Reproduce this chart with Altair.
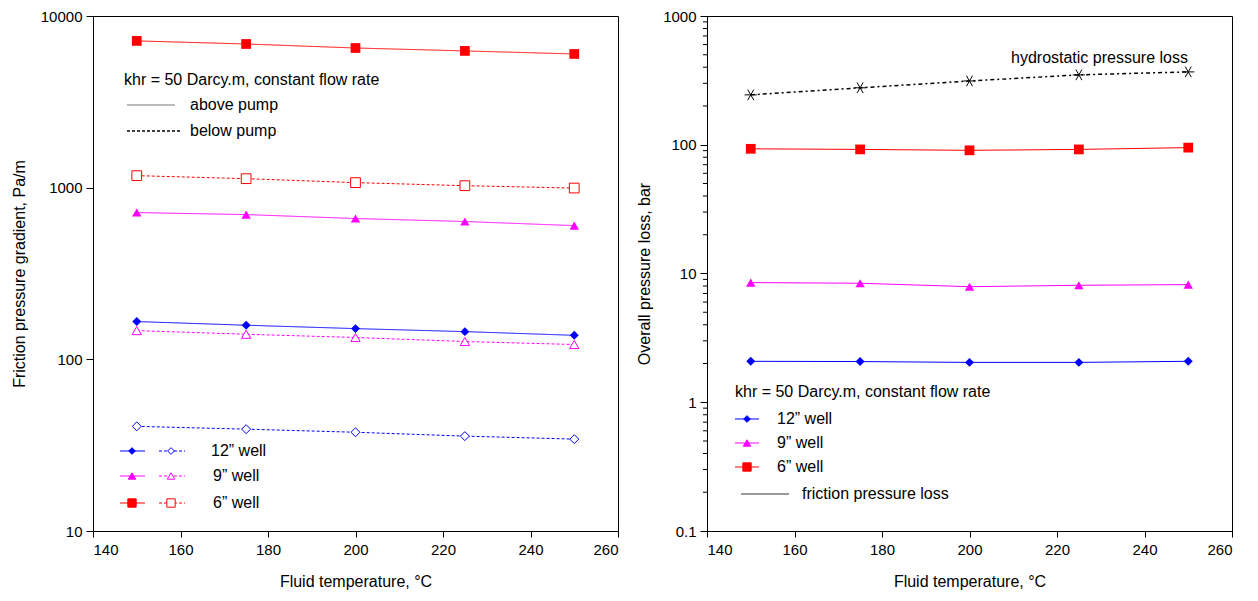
import altair as alt
import pandas as pd

FONT = "Liberation Sans"

# ---------------- data ----------------
temps = [150, 175, 200, 225, 250]
wells = ["12", "9", "6"]

# left: friction pressure gradient, Pa/m
grad_above_12 = [166, 158, 151, 145, 138]
grad_above_9 = [716, 697, 661, 635, 601]
grad_above_6 = [7160, 6870, 6510, 6260, 6010]
grad_below_12 = [40.7, 39.2, 37.6, 35.7, 34.3]
grad_below_9 = [147, 140, 134, 127, 122]
grad_below_6 = [1175, 1128, 1070, 1027, 995]

# right: overall pressure loss, bar
loss_12 = [2.08, 2.07, 2.04, 2.04, 2.08]
loss_9 = [8.5, 8.4, 7.9, 8.1, 8.2]
loss_6 = [93, 92, 90.5, 92, 95]
hydro_loss = [244, 277, 313, 349, 368]

x_ticks = [140, 160, 180, 200, 220, 240, 260]
left_y_ticks = [10, 100, 1000, 10000]
right_y_ticks = [0.1, 1, 10, 100, 1000]
right_minor_ticks = [m * d for d in [0.1, 1, 10, 100] for m in range(2, 10)]

colors = ["#0000FF", "#FF00FF", "#FF0000"]
shapes = ["diamond", "triangle-up", "square"]
sizes = [80, 95, 130]

# ---------------- frames ----------------
rows = []
for w, a, b in zip(wells, [grad_above_12, grad_above_9, grad_above_6],
                   [grad_below_12, grad_below_9, grad_below_6]):
    for t, v in zip(temps, a):
        rows.append({"T": t, "v": v, "well": w, "pos": "above", "key": w + "a"})
    for t, v in zip(temps, b):
        rows.append({"T": t, "v": v, "well": w, "pos": "below", "key": w + "b"})
df_left = pd.DataFrame(rows)

rows = []
for w, a in zip(wells, [loss_12, loss_9, loss_6]):
    for t, v in zip(temps, a):
        rows.append({"T": t, "v": v, "well": w})
df_right = pd.DataFrame(rows)
df_hydro = pd.DataFrame({"T": temps, "v": hydro_loss})
df_minor = pd.DataFrame({"v": right_minor_ticks})

color_scale = alt.Scale(domain=wells, range=colors)
shape_scale = alt.Scale(domain=wells, range=shapes)
size_scale = alt.Scale(domain=wells, range=sizes)

W, H = 525, 515


def xenc():
    return alt.X("T:Q", scale=alt.Scale(domain=[140, 260], nice=False, zero=False),
                 axis=alt.Axis(values=x_ticks, format="d", title="Fluid temperature, °C",
                               tickSize=6, labelPadding=5, titlePadding=16, grid=False))


left_y = alt.Y("v:Q", scale=alt.Scale(type="log", domain=[10, 10000], nice=False),
               axis=alt.Axis(values=left_y_ticks, format="d",
                             title="Friction pressure gradient, Pa/m",
                             tickSize=7, labelPadding=4, titlePadding=13, grid=False))

right_y = alt.Y("v:Q", scale=alt.Scale(type="log", domain=[0.1, 1000], nice=False),
                axis=alt.Axis(values=right_y_ticks, format="~g",
                              tickSize=7, title="Overall pressure loss, bar",
                              labelPadding=4, titlePadding=10, grid=False))

one = pd.DataFrame({"a": [0]})


def hline(x1, x2, y, color, dash=None, width=1.0):
    kw = dict(color=color, strokeWidth=width)
    if dash is not None:
        kw["strokeDash"] = dash
    return alt.Chart(one).mark_rule(**kw).encode(
        x=alt.value(x1), x2=alt.value(x2), y=alt.value(y))


def marker(x, y, shape, color, filled, size):
    return alt.Chart(one).mark_point(
        shape=shape, size=size, filled=True, fill=color if filled else "white",
        stroke=color, strokeWidth=1, opacity=1).encode(x=alt.value(x), y=alt.value(y))


def label(x, y, text, size=16):
    return alt.Chart(one).mark_text(
        align="left", baseline="middle", font=FONT, fontSize=size, color="black").encode(
        x=alt.value(x), y=alt.value(y), text=alt.value(text))


# ---------------- left panel ----------------
left_lines = alt.Chart(df_left).mark_line(strokeWidth=1).encode(
    x=xenc(), y=left_y,
    color=alt.Color("well:N", scale=color_scale, legend=None),
    strokeDash=alt.StrokeDash("pos:N", scale=alt.Scale(domain=["above", "below"],
                                                       range=[[1, 0], [3, 2]]), legend=None),
    detail="key:N")
left_pts_a = alt.Chart(df_left).transform_filter("datum.pos == 'above'").mark_point(
    filled=True, opacity=1).encode(
    x="T:Q", y="v:Q",
    color=alt.Color("well:N", scale=color_scale, legend=None),
    shape=alt.Shape("well:N", scale=shape_scale, legend=None),
    size=alt.Size("well:N", scale=size_scale, legend=None))
left_pts_b = alt.Chart(df_left).transform_filter("datum.pos == 'below'").mark_point(
    filled=True, fill="white", opacity=1, strokeWidth=1).encode(
    x="T:Q", y="v:Q",
    stroke=alt.Stroke("well:N", scale=color_scale, legend=None),
    shape=alt.Shape("well:N", scale=shape_scale, legend=None),
    size=alt.Size("well:N", scale=size_scale, legend=None))

left_leg = [
    label(31, 64, "khr = 50 Darcy.m, constant flow rate"),
    hline(34, 82, 89, "#777777"),
    label(97, 89, "above pump"),
    hline(34, 87, 115, "black", dash=[3, 2], width=1.5),
    label(97, 115, "below pump"),
]
for i, (lab, c, s, sz, yy) in enumerate(zip(["12” well", "9” well", "6” well"], colors, shapes,
                                             [45, 55, 70], [435, 460, 487])):
    left_leg += [
        hline(27, 52, yy, c),
        marker(39, yy, s, c, True, sz),
        hline(66, 92, yy, c, dash=[3, 2]),
        marker(78, yy, s, c, False, sz),
        label(118 if i == 0 else 120, yy, lab),
    ]

left = alt.layer(left_lines, left_pts_a, left_pts_b, *left_leg).properties(width=W, height=H)

# ---------------- right panel ----------------
right_lines = alt.Chart(df_right).mark_line(strokeWidth=1).encode(
    x=xenc(), y=right_y,
    color=alt.Color("well:N", scale=color_scale, legend=None))
minor = alt.Chart(df_minor).mark_rule(color="black", strokeWidth=1).encode(
    y="v:Q", x=alt.value(-4), x2=alt.value(0))
right_pts = alt.Chart(df_right).mark_point(filled=True, opacity=1).encode(
    x="T:Q", y="v:Q",
    color=alt.Color("well:N", scale=color_scale, legend=None),
    shape=alt.Shape("well:N", scale=shape_scale, legend=None),
    size=alt.Size("well:N", scale=size_scale, legend=None))
hydro_line = alt.Chart(df_hydro).mark_line(color="black", strokeWidth=1.5,
                                           strokeDash=[4, 3, 2, 3]).encode(x="T:Q", y="v:Q")
star = "M-1,0L1,0M-0.5,-0.866L0.5,0.866M-0.5,0.866L0.5,-0.866"
hydro_pts = alt.Chart(df_hydro).mark_point(shape=star, size=150, filled=False, color="black",
                                           strokeWidth=1, opacity=1).encode(x="T:Q", y="v:Q")

right_leg = [
    label(304, 42, "hydrostatic pressure loss"),
    label(28, 376, "khr = 50 Darcy.m, constant flow rate"),
]
for lab, c, s, sz, yy in zip(["12” well", "9” well", "6” well"], colors, shapes,
                             [45, 55, 70], [403, 427, 451]):
    right_leg += [hline(28, 52, yy, c), marker(40, yy, s, c, True, sz), label(70, yy, lab)]
right_leg += [hline(34, 82, 478, "#777777", width=1.3), label(95, 478, "friction pressure loss")]

right = alt.layer(right_lines, minor, right_pts, hydro_line, hydro_pts, *right_leg).properties(
    width=W, height=H)

chart = alt.hconcat(left, right, spacing=89, bounds="flush").properties(
    padding={"left": 10, "top": 8, "right": 20, "bottom": 6},
    background="white"
).configure_view(stroke="black", strokeWidth=1).configure_axis(
    labelFont=FONT, titleFont=FONT, labelFontSize=15, titleFontSize=16,
    titleFontWeight="normal", labelColor="black", titleColor="black",
    domainColor="black", tickColor="black", grid=False
)

chart.save("out.html", embed_options={"renderer": "svg", "actions": False})
